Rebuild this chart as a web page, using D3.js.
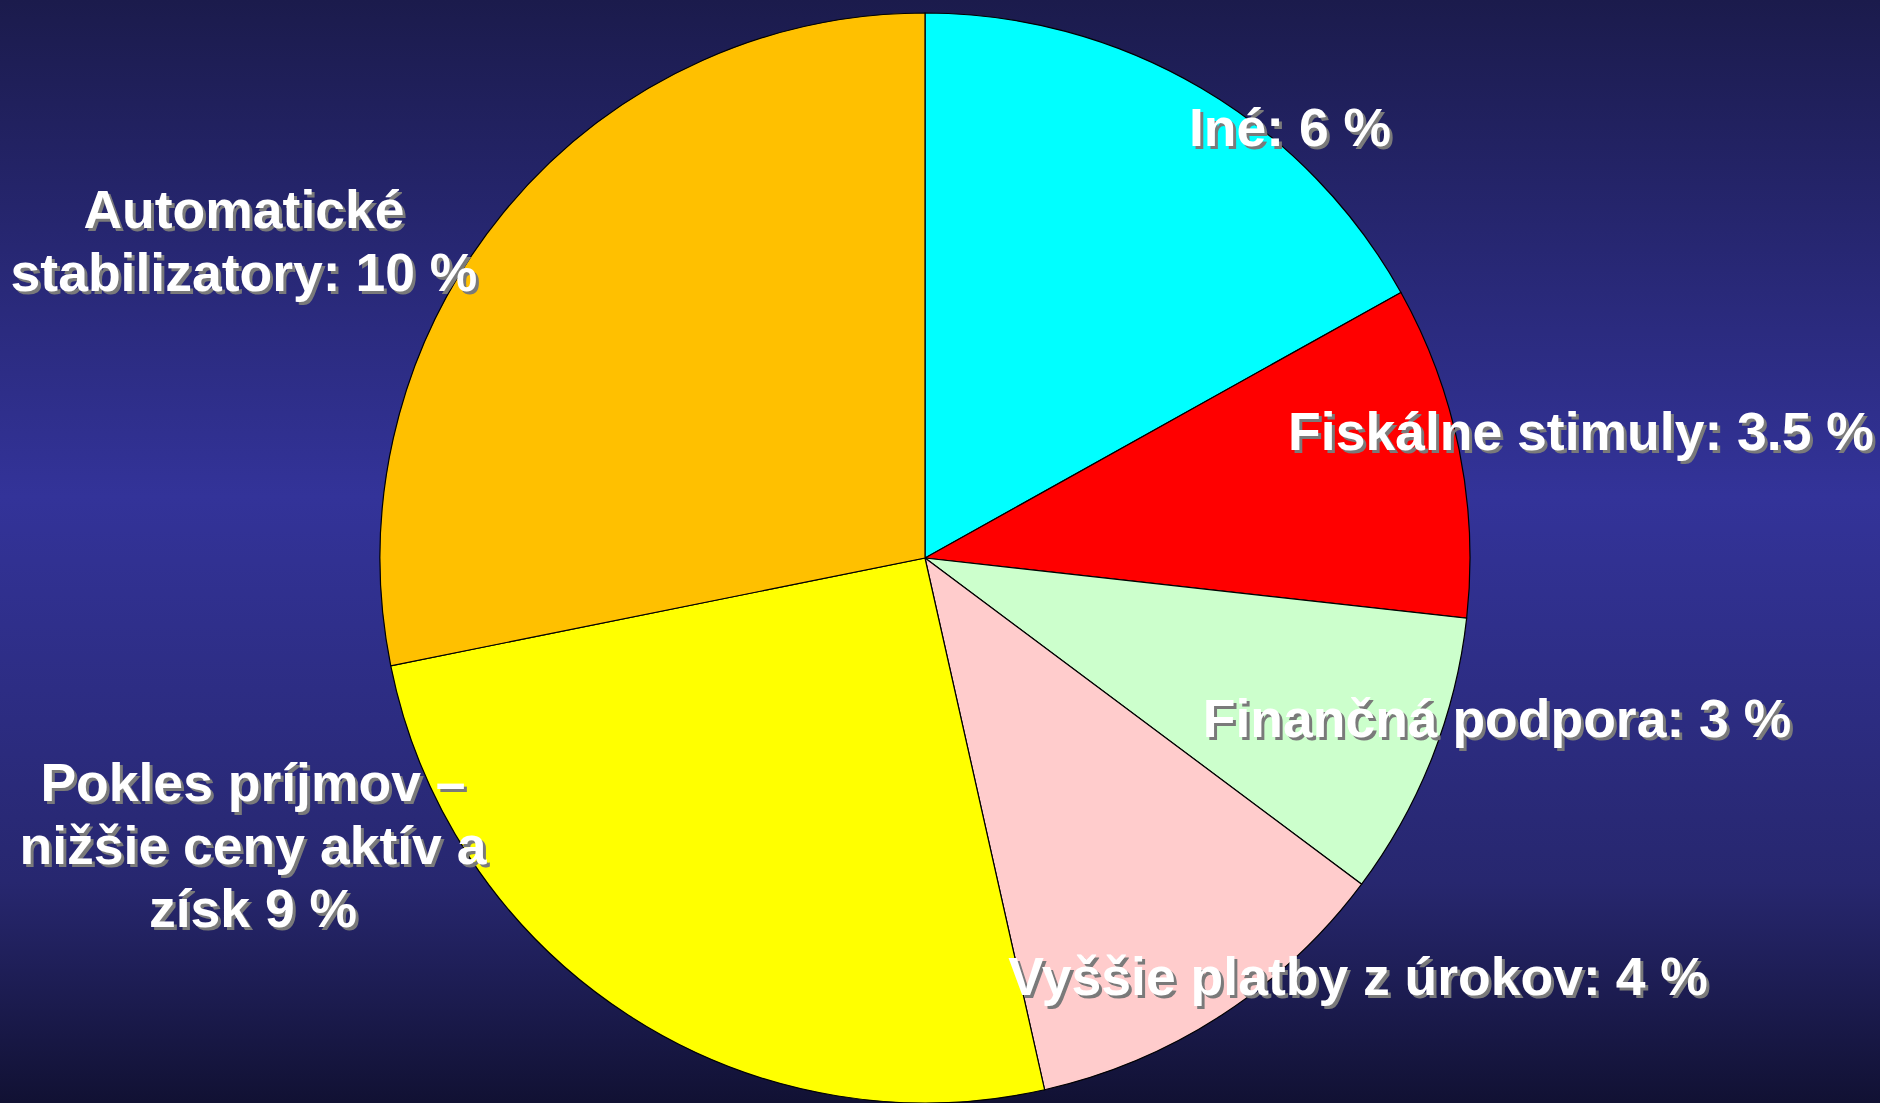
<!DOCTYPE html>
<html>
<head>
<meta charset="utf-8">
<script src="https://cdn.jsdelivr.net/npm/d3@7"></script>
<style>
  html, body { margin: 0; padding: 0; overflow: hidden; }
</style>
</head>
<body>
<div id="chart"></div>
<script>
// slices, clockwise from 12 o'clock
let categories = ['Iné', 'Fiskálne stimuly', 'Finančná podpora', 'Vyššie platby z úrokov', 'Pokles príjmov', 'Automatické stabilizatory']
let values = [6, 3.5, 3, 4, 9, 10]
let colors = ['#00ffff', '#ff0000', '#ccffcc', '#ffcccc', '#ffff00', '#ffc000']
let labelLines = [
  ['Iné: 6 %'],
  ['Fiskálne stimuly: 3.5 %'],
  ['Finančná podpora: 3 %'],
  ['Vyššie platby z úrokov: 4 %'],
  ['Pokles príjmov –', 'nižšie ceny aktív a', 'získ 9 %'],
  ['Automatické', 'stabilizatory: 10 %']
]

let width = 1880
let height = 1103
let cx = 925
let cy = 558
let radius = 545

// label anchor points (centre x, first baseline y)
let labelPos = [
  [1290, 146],
  [1581, 450],
  [1497, 737],
  [1358, 995],
  [253, 801],
  [244, 228]
]

let svg = d3
  .select('#chart')
  .append('svg')
  .attr('width', width)
  .attr('height', height)

let defs = svg.append('defs')
let grad = defs
  .append('linearGradient')
  .attr('id', 'bg')
  .attr('x1', 0)
  .attr('y1', 0)
  .attr('x2', 0)
  .attr('y2', 1)
grad.append('stop').attr('offset', '0%').attr('stop-color', '#1b1b4c')
grad.append('stop').attr('offset', '45%').attr('stop-color', '#333399')
grad.append('stop').attr('offset', '80%').attr('stop-color', '#27276f')
grad.append('stop').attr('offset', '100%').attr('stop-color', '#111133')

svg
  .append('rect')
  .attr('width', width)
  .attr('height', height)
  .attr('fill', 'url(#bg)')

let data = categories.map((c, i) => ({ name: c, value: values[i], color: colors[i], lines: labelLines[i] }))

let pie = d3.pie().sort(null).value(d => d.value)
let arc = d3.arc().innerRadius(0).outerRadius(radius)

let g = svg.append('g').attr('transform', `translate(${cx},${cy})`)

g.selectAll('.slice')
  .data(pie(data))
  .enter()
  .append('path')
  .attr('class', 'slice')
  .attr('d', arc)
  .attr('fill', d => d.data.color)
  .attr('stroke', '#000')
  .attr('stroke-width', 1.2)

let fontSize = 53.5
let lineHeight = 63

function drawLabels(dx, dy, fill) {
  svg
    .selectAll('.label-' + fill.replace('#', ''))
    .data(data)
    .enter()
    .append('text')
    .attr('class', 'label-' + fill.replace('#', ''))
    .attr('text-anchor', 'middle')
    .attr('font-family', '"Liberation Sans", Arial, sans-serif')
    .attr('font-weight', 'bold')
    .attr('font-size', fontSize)
    .attr('fill', fill)
    .each(function(d, i) {
      let t = d3.select(this)
      d.lines.forEach((line, j) => {
        t.append('tspan')
          .attr('x', labelPos[i][0] + dx)
          .attr('y', labelPos[i][1] + dy + j * lineHeight)
          .text(line)
      })
    })
}

drawLabels(3, 3, '#7a7a7a')
drawLabels(0, 0, '#ffffff')
</script>
</body>
</html>
